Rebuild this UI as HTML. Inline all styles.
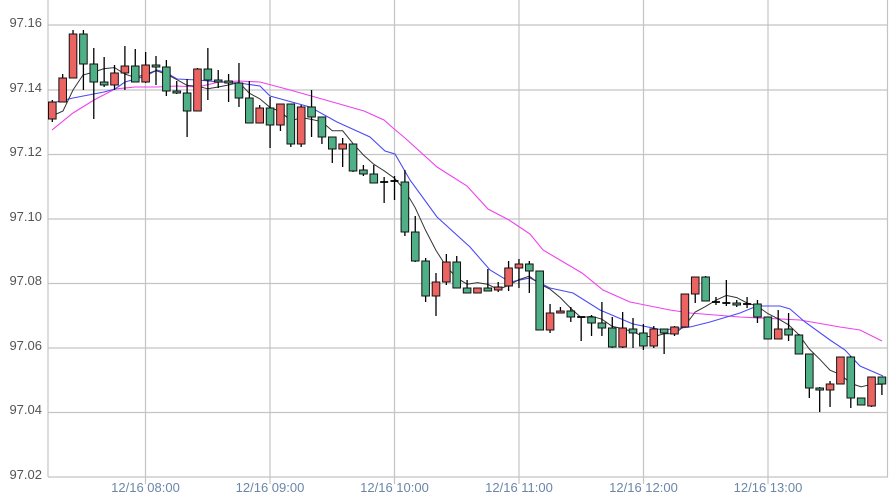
<!DOCTYPE html>
<html><head><meta charset="utf-8"><style>
html,body{margin:0;padding:0;background:#fff;width:895px;height:502px;overflow:hidden}
text{font-family:"Liberation Sans",sans-serif}
</style></head><body>
<svg id="c" width="895" height="502" xmlns="http://www.w3.org/2000/svg">
<g stroke="#c4c4c4" stroke-width="1.2">
<line x1="48" y1="25" x2="888" y2="25"/><line x1="48" y1="90" x2="888" y2="90"/>
<line x1="48" y1="154.5" x2="888" y2="154.5"/><line x1="48" y1="219" x2="888" y2="219"/>
<line x1="48" y1="283.5" x2="888" y2="283.5"/><line x1="48" y1="348" x2="888" y2="348"/>
<line x1="48" y1="412.5" x2="888" y2="412.5"/>
<line x1="145.5" y1="0" x2="145.5" y2="484"/><line x1="270" y1="0" x2="270" y2="484"/>
<line x1="394.5" y1="0" x2="394.5" y2="484"/><line x1="519" y1="0" x2="519" y2="484"/>
<line x1="643.5" y1="0" x2="643.5" y2="484"/><line x1="768" y1="0" x2="768" y2="484"/>
<line x1="887.5" y1="0" x2="887.5" y2="477"/>
<line x1="48" y1="0" x2="48" y2="477"/><line x1="48" y1="477" x2="888" y2="477"/>
</g>
<g font-size="13" fill="#555" text-anchor="end">
<text x="42" y="27">97.16</text><text x="42" y="92">97.14</text><text x="42" y="156">97.12</text>
<text x="42" y="221">97.10</text><text x="42" y="285">97.08</text><text x="42" y="350">97.06</text>
<text x="42" y="414">97.04</text><text x="42" y="479">97.02</text>
</g>
<g font-size="13" fill="#6a86a8" text-anchor="middle">
<text x="145.5" y="492">12/16 08:00</text><text x="270" y="492">12/16 09:00</text>
<text x="394.5" y="492">12/16 10:00</text><text x="519" y="492">12/16 11:00</text>
<text x="643.5" y="492">12/16 12:00</text><text x="768" y="492">12/16 13:00</text>
</g>
<g id="ma"></g>
<g id="k"></g>
</svg>
<script>
// [bodyTop, bodyBottom, wickTop, wickBottom, up(red)=1 / down(green)=0]
var D=[
[102,119,100,122,1],[78,102,74,102,1],[34,78,30,78,1],[34,64,30,90,0],[64,82,48,119,0],
[82,85,57,87,0],[73,85,65,90,1],[66,73,46,90,1],[66,82,49,82,0],[65,82,52,83,1],
[65,67,56,85,0],[67,91,60,96,0],[91,93,81,94,0],[93,111,79,137,0],[69,111,68,111,1],
[69,80,48,100,0],[80,82,70,88,0],[81,83,74,102,0],[83,98,63,107,0],[98,123,81,123,0],
[108,123,105,123,1],[108,125,97,148,0],[104,125,104,131,1],[104,144,104,147,0],[107,144,105,147,1],
[107,117,90,137,0],[117,137,117,144,0],[137,149,137,163,0],[144,149,138,167,1],[144,171,144,172,0],
[170,174,165,176,0],[174,183,165,183,0],[182,182,177,203,0],[181,181,176,200,0],[182,232,170,236,0],
[232,261,216,262,0],[261,296,258,302,0],[282,296,273,316,1],[262,282,254,285,1],[262,288,256,288,0],
[288,293,280,293,0],[288,293,288,293,1],[288,291,269,291,0],[287,290,282,292,1],[268,286,261,291,1],
[264,268,259,288,1],[264,271,261,293,0],[271,330,271,330,0],[313,330,304,333,1],[311,313,307,313,1],
[311,317,307,322,0],[317,317,317,341,0],[317,323,315,336,0],[323,328,302,336,0],[328,347,317,348,0],
[328,347,312,348,1],[329,333,318,348,0],[333,346,324,350,0],[329,346,326,348,1],[329,333,329,354,0],
[327,334,326,336,1],[294,327,294,327,1],[277,294,277,303,1],[277,301,276,301,0],[302,302,297,305,0],
[303,303,280,306,0],[303,305,300,307,0],[304,304,297,308,0],[304,317,300,323,0],[317,339,317,339,0],
[329,339,310,339,1],[329,335,313,341,0],[335,354,334,354,0],[354,388,354,398,0],[388,390,387,412,0],
[384,390,381,407,1],[357,384,357,384,1],[357,398,356,408,0],[398,405,398,405,0],[377,406,377,407,1],
[377,384,377,395,0]];
var NS="http://www.w3.org/2000/svg",k=document.getElementById('k'),m=document.getElementById('ma');
function X(i){return 52.3+10.37*i;}
function el(n,a,p){var e=document.createElementNS(NS,n);for(var q in a)e.setAttribute(q,a[q]);p.appendChild(e);return e;}
var closes=[];
D.forEach(function(d,i){
 var x=X(i);closes.push(d[4]?d[0]:d[1]);
 el('line',{x1:x,x2:x,y1:d[2],y2:d[3],stroke:'#000','stroke-width':1.3},k);
 var h=d[1]-d[0];
 if(h<1.5){el('line',{x1:x-4,x2:x+4,y1:d[0],y2:d[0],stroke:'#000','stroke-width':1.8},k);}
 else el('rect',{x:x-3.8,y:d[0],width:7.6,height:h,fill:d[4]?'#ec6461':'#4fb088',stroke:'#111','stroke-width':1},k);
});
// MA5 computed
var p5=[[52,116],[63,111],[73,90],[83,75]];
for(var i=4;i<D.length;i++){var s=0;for(var j=i-4;j<=i;j++)s+=closes[j];p5.push([X(i),s/5]);}
var blue=[[52,103],[73,98],[104,92],[115,89],[125,82],[146,76],[157,70],[167,73],[177,79],[198,80],[219,82],[239,83],[260,86],[270,96],[310,107],[337,122],[370,137],[385,151],[395,154],[410,180],[437,217],[470,247],[490,270],[510,282],[530,278],[550,288],[573,293],[600,310],[633,324],[663,330],[690,327],[710,322],[740,313],[757,306],[780,306],[790,309],[805,322],[830,340],[845,350],[860,366],[883,376]];
var mag=[[52,130],[73,113],[94,100],[115,89],[135,87],[157,87],[177,86],[198,87],[219,82],[239,81],[260,82],[290,90],[322,99],[343,105],[364,111],[384,120],[393,128],[405,138],[437,167],[467,186],[488,209],[509,220],[530,234],[543,250],[582,273],[603,290],[630,302],[670,310],[690,313],[740,317],[800,320],[840,327],[860,330],[882,341]];
function pl(pts,c,w){el('polyline',{points:pts.map(function(p){return p.join(',')}).join(' '),fill:'none',stroke:c,'stroke-width':w},m);}
pl(mag,'#f040f0',1.1);pl(blue,'#4a4af5',1.1);pl(p5,'#333',1);
</script>
</body></html>
